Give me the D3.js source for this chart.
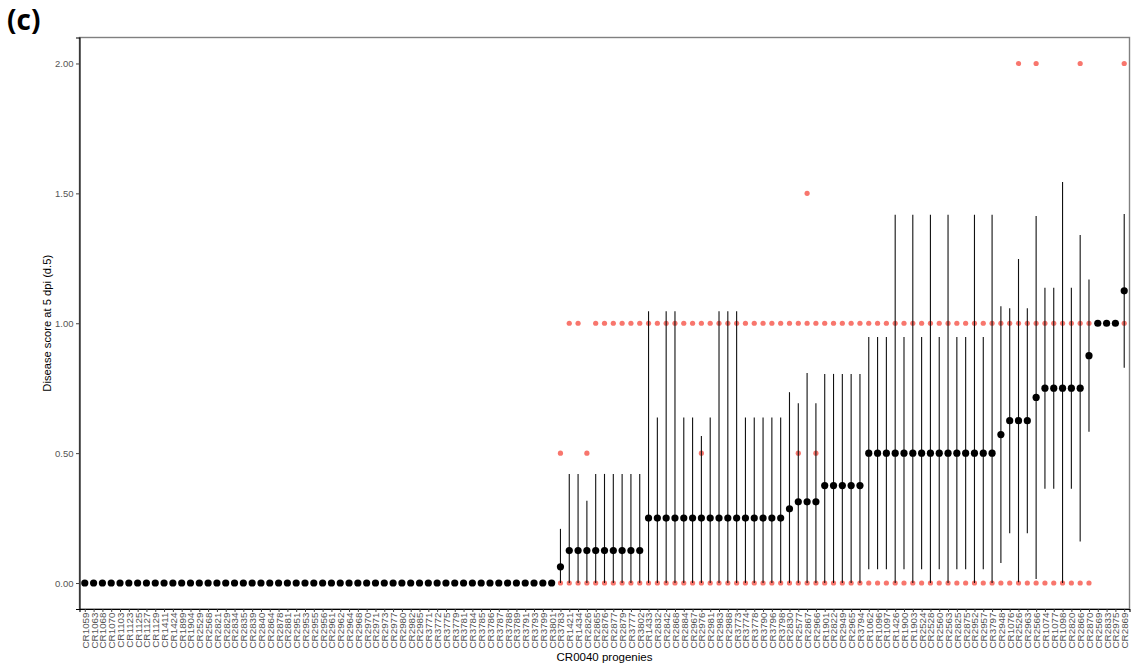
<!DOCTYPE html>
<html>
<head>
<meta charset="utf-8">
<script src="https://cdn.jsdelivr.net/npm/d3@7/dist/d3.min.js"></script>
<style>
  html, body { margin: 0; padding: 0; background: #fff; }
  svg { display: block; font-family: "Liberation Sans", Arial, sans-serif; }
</style>
</head>
<body>
<svg id="chart" width="1131" height="668"></svg>
<script>
// CR0040 progenies, ordered by mean disease score
const progenies = [
  "CR1059","CR1063","CR1068","CR1070","CR1103","CR1123","CR1125","CR1127","CR1129","CR1411",
  "CR1424","CR1899","CR1904","CR2529","CR2568","CR2821","CR2829","CR2834","CR2835","CR2839",
  "CR2840","CR2864","CR2878","CR2881","CR2951","CR2953","CR2955","CR2956","CR2961","CR2962",
  "CR2964","CR2968","CR2970","CR2971","CR2973","CR2977","CR2980","CR2982","CR2985","CR3771",
  "CR3772","CR3775","CR3779","CR3781","CR3784","CR3785","CR3786","CR3787","CR3788","CR3789",
  "CR3791","CR3793","CR3799","CR3801","CR3783","CR1421","CR1434","CR2826","CR2865","CR2876",
  "CR2877","CR2879","CR3777","CR3802","CR1433","CR2832","CR2842","CR2868","CR2884","CR2967",
  "CR2976","CR2981","CR2983","CR2988","CR3773","CR3774","CR3778","CR3790","CR3796","CR3798",
  "CR2830","CR2577","CR2867","CR2966","CR1901","CR2822","CR2949","CR2965","CR3794","CR1062",
  "CR1096","CR1097","CR1426","CR1900","CR1903","CR2524","CR2528","CR2560","CR2563","CR2825",
  "CR2875","CR2952","CR2957","CR3797","CR2948","CR1076","CR2526","CR2963","CR2566","CR1074",
  "CR1077","CR1098","CR2820","CR2866","CR2870","CR2569","CR2833","CR2975","CR2869"
];

// Mean disease score at 5 dpi per progeny
const meanScore = [
  0,0,0,0,0,0,0,0,0,0,
  0,0,0,0,0,0,0,0,0,0,
  0,0,0,0,0,0,0,0,0,0,
  0,0,0,0,0,0,0,0,0,0,
  0,0,0,0,0,0,0,0,0,0,
  0,0,0,0,0.0625,0.125,0.125,0.125,0.125,0.125,
  0.125,0.125,0.125,0.125,0.25,0.25,0.25,0.25,0.25,0.25,
  0.25,0.25,0.25,0.25,0.25,0.25,0.25,0.25,0.25,0.25,
  0.2857,0.3125,0.3125,0.3125,0.375,0.375,0.375,0.375,0.375,0.5,
  0.5,0.5,0.5,0.5,0.5,0.5,0.5,0.5,0.5,0.5,
  0.5,0.5,0.5,0.5,0.5714,0.625,0.625,0.625,0.7143,0.75,
  0.75,0.75,0.75,0.75,0.875,1,1,1,1.125
];

// Standard deviation of the score per progeny
const sdScore = [
  0,0,0,0,0,0,0,0,0,0,
  0,0,0,0,0,0,0,0,0,0,
  0,0,0,0,0,0,0,0,0,0,
  0,0,0,0,0,0,0,0,0,0,
  0,0,0,0,0,0,0,0,0,0,
  0,0,0,0,0.146,0.295,0.295,0.192,0.295,0.295,
  0.295,0.295,0.295,0.295,0.796,0.387,0.796,0.796,0.387,0.387,
  0.316,0.387,0.796,0.796,0.796,0.387,0.387,0.387,0.387,0.387,
  0.449,0.38,0.496,0.38,0.43,0.43,0.43,0.43,0.43,0.447,
  0.447,0.447,0.918,0.447,0.918,0.447,0.918,0.447,0.918,0.447,
  0.447,0.918,0.447,0.918,0.494,0.433,0.622,0.433,0.699,0.387,
  0.387,0.794,0.387,0.59,0.293,0,0,0,0.296
];

// Individual scores observed for each progeny (one list per score level)
const scoredZero = progenies.slice(0, progenies.indexOf("CR2870") + 1);
const scoredHalf = ["CR3783","CR2826","CR2976","CR2577","CR2966"];
const scoredOne = progenies.slice(progenies.indexOf("CR1421")).filter(p => p !== "CR2826");
const scoredOneHalf = ["CR2867"];
const scoredTwo = ["CR2526","CR2566","CR2866","CR2869"];

const yTicks = [0, 0.5, 1, 1.5, 2];

const observations = [].concat(
  scoredZero.map(p => ({ p, v: 0 })),
  scoredHalf.map(p => ({ p, v: 0.5 })),
  scoredOne.map(p => ({ p, v: 1 })),
  scoredOneHalf.map(p => ({ p, v: 1.5 })),
  scoredTwo.map(p => ({ p, v: 2 }))
);

const summary = progenies.map((p, i) => ({
  p, mean: meanScore[i], sd: sdScore[i]
}));

const svg = d3.select("#chart");
const panel = { left: 79.5, right: 1129.5, top: 37.5, bottom: 609 };

const x = d3.scalePoint()
  .domain(progenies)
  .range([panel.left, panel.right])
  .padding(0.6);

const y = d3.scaleLinear()
  .domain([-0.1, 2.1])
  .range([panel.bottom, panel.top]);

// panel frame
svg.append("rect")
  .attr("x", panel.left).attr("y", panel.top)
  .attr("width", panel.right - panel.left)
  .attr("height", panel.bottom - panel.top)
  .attr("fill", "none")
  .attr("stroke", "#808080")
  .attr("stroke-width", 1.4);

// y axis
const yAxis = svg.append("g")
  .attr("transform", `translate(${panel.left},0)`)
  .call(d3.axisLeft(y).tickValues(yTicks).tickFormat(d3.format(".2f")).tickSize(3.5).tickPadding(2.5));
yAxis.select(".domain").attr("stroke", "#000").attr("stroke-width", 1.1);
yAxis.selectAll(".tick line").attr("stroke", "#444").attr("stroke-width", 1);
yAxis.selectAll(".tick text")
  .attr("fill", "#555")
  .style("font-size", "9.5px")
  .style("font-family", "Liberation Sans, Arial, sans-serif");

// x axis
const xAxis = svg.append("g")
  .attr("transform", `translate(0,${panel.bottom})`)
  .call(d3.axisBottom(x).tickSize(3).tickPadding(2));
xAxis.select(".domain").attr("stroke", "#000").attr("stroke-width", 1.1);
xAxis.selectAll(".tick line").attr("stroke", "#444").attr("stroke-width", 1);
xAxis.selectAll(".tick text")
  .attr("fill", "#555")
  .style("font-size", "9.8px")
  .style("font-family", "Liberation Sans, Arial, sans-serif")
  .attr("transform", "rotate(-90)")
  .attr("text-anchor", "end")
  .attr("dx", 0)
  .attr("dy", "0.35em")
  .attr("y", 0)
  .attr("x", -3.5);

// individual observations
svg.append("g")
  .selectAll("circle")
  .data(observations)
  .join("circle")
  .attr("cx", d => x(d.p))
  .attr("cy", d => y(d.v))
  .attr("r", 2.6)
  .attr("fill", "#F8766D");

// mean ± sd bars (lower end held at zero)
svg.append("g")
  .selectAll("line")
  .data(summary.filter(d => d.sd > 0))
  .join("line")
  .attr("x1", d => x(d.p))
  .attr("x2", d => x(d.p))
  .attr("y1", d => y(Math.max(0, d.mean - d.sd)))
  .attr("y2", d => y(d.mean + d.sd))
  .attr("stroke", "#111")
  .attr("stroke-width", 1.1);

// means
svg.append("g")
  .selectAll("circle")
  .data(summary)
  .join("circle")
  .attr("cx", d => x(d.p))
  .attr("cy", d => y(d.mean))
  .attr("r", 3.6)
  .attr("fill", "#000");

// axis titles
svg.append("text")
  .attr("x", (panel.left + panel.right) / 2)
  .attr("y", 661)
  .attr("text-anchor", "middle")
  .style("font-size", "11.5px")
  .attr("fill", "#000")
  .text("CR0040 progenies");

svg.append("text")
  .attr("transform", `translate(51,${(panel.top + panel.bottom) / 2}) rotate(-90)`)
  .attr("text-anchor", "middle")
  .style("font-size", "11.2px")
  .attr("fill", "#000")
  .text("Disease score at 5 dpi (d.5)");

// panel tag
svg.append("text")
  .attr("x", 7)
  .attr("y", 30)
  .style("font-family", "Open Sans, Liberation Sans, sans-serif")
  .style("font-weight", "bold")
  .style("font-size", "28px")
  .attr("fill", "#000")
  .text("(c)");
</script>
</body>
</html>
